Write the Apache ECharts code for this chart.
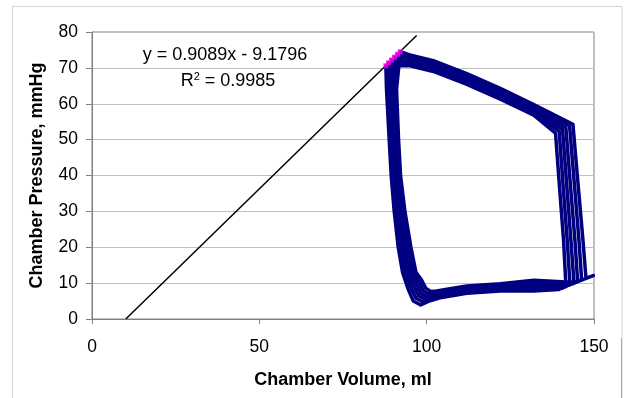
<!DOCTYPE html>
<html>
<head>
<meta charset="utf-8">
<script src="https://cdn.jsdelivr.net/npm/echarts@6/dist/echarts.min.js"></script>
<style>
  html, body { margin: 0; padding: 0; background: #fff; }
  #chart { width: 629px; height: 398px; }
</style>
</head>
<body>
<div id="chart"></div>
<script>
// 压力-容积环 (每个心动周期一组点: 舒张末 -> 右侧 -> 顶部 -> 收缩末 -> 左侧 -> 底部)
const loop1 = [[141.6, 9.5], [140.9, 22], [139.6, 38], [138.5, 51.8], [132, 56.8], [122, 61.3], [112, 65.4], [102, 69.0], [95, 70.6], [87.8, 70.6],
  [88.0, 64], [88.8, 50], [89.4, 40], [90.3, 30], [91.5, 20], [92.8, 13], [94.4, 8.5], [96.0, 5.0], [98.2, 3.9], [100.5, 4.9], [104, 5.9],
  [112, 7.2], [122, 7.8], [132, 7.8], [139.5, 8.2]]
const loop2 = [[142.8, 9.9], [142.0, 22], [140.7, 38], [139.6, 52.3], [132, 57.4], [122, 61.9], [112, 66.0], [102, 69.6], [95, 71.2], [88.6, 71.4],
  [88.6, 64], [89.4, 50], [90.0, 40], [90.9, 30], [92.3, 20], [93.6, 13], [95.2, 9.0], [96.8, 5.8], [98.8, 4.8], [101, 5.6], [104.5, 6.4],
  [112, 7.6], [122, 8.2], [132, 8.4], [140.5, 8.6]]
const loop3 = [[144.0, 10.3], [143.1, 22], [141.8, 38], [140.6, 52.8], [132, 58.0], [122, 62.5], [112, 66.6], [102, 70.2], [95, 71.8], [89.5, 72.2],
  [89.2, 64], [90.0, 50], [90.5, 40], [91.6, 30], [93.0, 20], [94.4, 13], [96.0, 9.5], [97.6, 6.5], [99.4, 5.6], [101.5, 6.2], [105, 6.9],
  [112, 8.0], [122, 8.6], [132, 9.0], [141.5, 9.0]]
const loop4 = [[145.1, 10.6], [144.3, 22], [142.9, 38], [141.6, 53.3], [132, 58.6], [122, 63.1], [112, 67.2], [102, 70.8], [95, 72.4], [90.4, 73.0],
  [89.8, 64], [90.6, 50], [91.1, 40], [92.2, 30], [93.8, 20], [95.2, 13], [96.8, 10.0], [98.3, 7.2], [100, 6.3], [102, 6.8], [105.5, 7.4],
  [112, 8.4], [122, 9.0], [132, 9.6], [142.5, 9.4]]
const loop5 = [[146.3, 11.0], [145.5, 22], [144.1, 38], [142.7, 53.8], [132, 59.2], [122, 63.7], [112, 67.8], [102, 71.4], [95, 73.0], [91.3, 73.8],
  [90.4, 64], [91.2, 50], [91.6, 40], [92.9, 30], [94.5, 20], [96.0, 13], [97.6, 10.5], [99.0, 7.9], [100.6, 7.0], [102.5, 7.3], [106, 7.9],
  [112, 8.8], [122, 9.4], [132, 10.2], [143.5, 9.8]]
const loop6 = [[147.6, 11.4], [146.7, 22], [145.2, 38], [143.7, 54.3], [132, 59.8], [122, 64.3], [112, 68.4], [102, 72.0], [95, 73.6], [92.1, 74.5],
  [91.0, 64], [91.6, 50], [92.2, 40], [93.5, 30], [95.3, 20], [96.8, 13], [98.4, 11.0], [99.7, 8.6], [101.2, 7.7], [103, 7.8], [106.5, 8.4],
  [112, 9.2], [122, 9.8], [132, 10.8], [144.5, 10.2], [149.8, 12.1]]
const loops = [loop1, loop2, loop3, loop4, loop5, loop6]

// 收缩末点 (ESPVR)
const esPoints = [[87.8, 70.6], [88.6, 71.4], [89.5, 72.2], [90.4, 73.0], [91.3, 73.8], [92.1, 74.5]]
// 拟合直线 y = 0.9089x - 9.1796 的两端
const fitLine = [[10.1, 0], [97, 79]]

const xTicks = [0, 50, 100, 150]
const yTicks = [0, 10, 20, 30, 40, 50, 60, 70, 80]

const font = 'Liberation Sans, Arial, sans-serif'
const myEcharts = echarts.init(document.getElementById('chart'))

const loopSeries = loops.map(item => ({
  type: 'line',
  data: item.concat([item[0]]),
  showSymbol: false,
  symbol: 'none',
  lineStyle: { color: '#000080', width: 3.5, join: 'round' },
  z: 2
}))

const options = {
  animation: false,
  grid: {
    left: 92,
    right: 35,
    top: 32,
    bottom: 79,
    show: true,
    borderColor: '#808080',
    borderWidth: 1
  },
  xAxis: {
    type: 'value',
    min: xTicks[0],
    max: xTicks[xTicks.length - 1],
    interval: 50,
    name: 'Chamber Volume, ml',
    nameLocation: 'middle',
    nameGap: 52,
    nameTextStyle: { fontFamily: font, fontSize: 18, fontWeight: 'bold', color: '#000' },
    axisLine: { show: true, lineStyle: { color: '#808080' } },
    axisTick: { show: true, length: 5, lineStyle: { color: '#808080' } },
    axisLabel: { fontFamily: font, fontSize: 17.5, color: '#000', margin: 19 },
    splitLine: { show: false }
  },
  yAxis: {
    type: 'value',
    min: yTicks[0],
    max: yTicks[yTicks.length - 1],
    interval: 10,
    name: 'Chamber Pressure, mmHg',
    nameLocation: 'middle',
    nameGap: 46,
    nameTextStyle: { fontFamily: font, fontSize: 18, fontWeight: 'bold', color: '#000' },
    axisLine: { show: true, lineStyle: { color: '#808080' } },
    axisTick: { show: true, length: 6, lineStyle: { color: '#808080' } },
    axisLabel: { fontFamily: font, fontSize: 17.5, color: '#000', margin: 14 },
    splitLine: { show: true, lineStyle: { color: '#c0c0c0', width: 1 } }
  },
  graphic: [
    {
      type: 'rect',
      shape: { x: 12.5, y: 6.5, width: 609.5, height: 400 },
      style: { fill: 'none', stroke: '#d4d4d4', lineWidth: 1 },
      silent: true
    },
    {
      type: 'line',
      shape: { x1: 621.5, y1: 338, x2: 621.5, y2: 398 },
      style: { stroke: '#e09090', lineWidth: 1 },
      silent: true
    },
    {
      type: 'text',
      x: 225,
      y: 55,
      style: {
        text: 'y = 0.9089x - 9.1796',
        font: '18px ' + font,
        fill: '#000',
        textAlign: 'center',
        textVerticalAlign: 'middle'
      }
    },
    {
      type: 'text',
      x: 228,
      y: 81,
      style: {
        text: 'R{sup|2} = 0.9985',
        font: '18px ' + font,
        fill: '#000',
        textAlign: 'center',
        textVerticalAlign: 'middle',
        rich: {
          sup: { fontSize: 11, fontFamily: font, verticalAlign: 'top', padding: [0, 0, 8, 0] }
        }
      }
    }
  ],
  series: [
    ...loopSeries,
    {
      type: 'line',
      data: fitLine,
      showSymbol: false,
      symbol: 'none',
      lineStyle: { color: '#000', width: 1.5 },
      z: 3
    },
    {
      type: 'scatter',
      data: esPoints,
      symbol: 'rect',
      symbolSize: 5,
      itemStyle: { color: '#ff00ff' },
      z: 4
    }
  ]
}
myEcharts.setOption(options)
</script>
</body>
</html>
